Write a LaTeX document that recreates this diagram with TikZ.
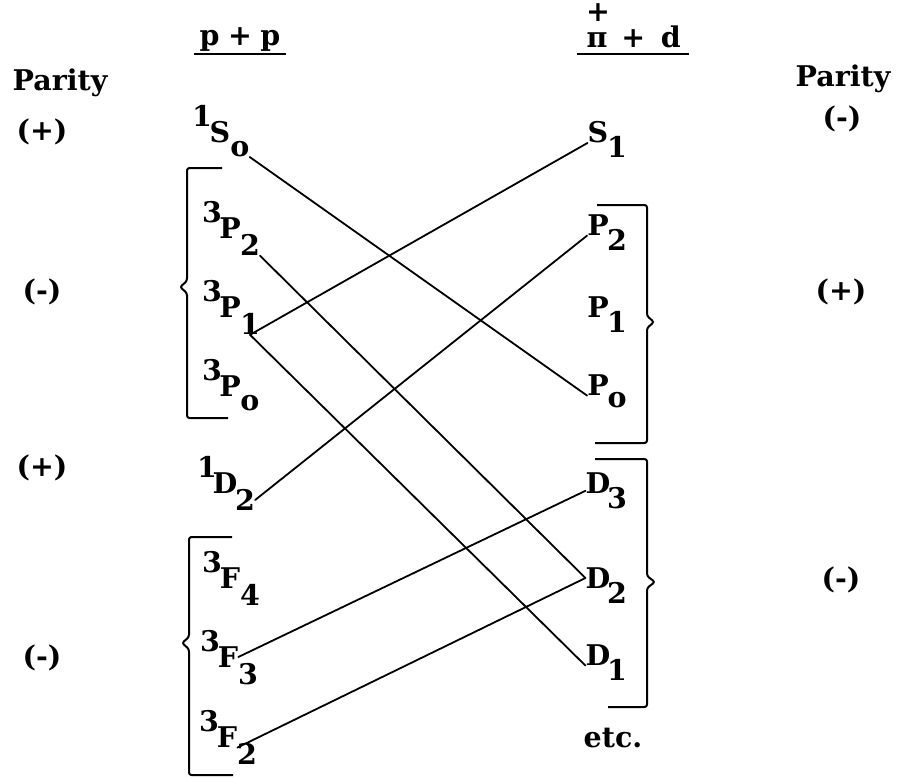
\documentclass[tikz,border=0pt]{standalone}
\usepackage{fontspec}
\setmainfont{DejaVu Serif}
\usetikzlibrary{positioning}

\begin{document}
\begin{tikzpicture}[x=1pt,y=-1pt,
  font=\fontsize{28.5}{30}\selectfont\bfseries,
  lt/.style={inner sep=0pt},
  ttl/.style={inner ysep=0pt,anchor=base},
  link/.style={line width=1.8pt,line cap=round},
  brk/.style={line width=2pt,rounded corners=2.5pt}]
 \useasboundingbox (0,0) rectangle (901,777);
 % headings
 \node[ttl,inner xsep=5pt] (pp) at (240,45) {p\hspace{0.3em}+\hspace{0.3em}p};
 \node[ttl,inner xsep=0pt] (pi) at (597,47) {π};
 \node[lt] (pi-u) at (598,13) {+};
 \node[ttl,inner xsep=0pt] (pd) at (651,47) {+\hspace{0.55em}d};
 \draw[line width=2pt] ([yshift=-9pt]pp.base west) -- ([yshift=-9pt]pp.base east);
 \draw[line width=2pt] ([xshift=-9pt,yshift=-7pt]pi.base west) -- ([xshift=8pt,yshift=-7pt]pd.base east);
 \node[ttl,inner xsep=0pt] (parL) at (60,90) {Parity};
 \node[ttl,inner xsep=0pt] (parR) at (843,86) {Parity};
 % parities
 \node[lt] (sgL1) at (42,132) {(+)};
 \node[lt] (sgL2) at (42,292) {(-)};
 \node[lt] (sgL3) at (42,468) {(+)};
 \node[lt] (sgL4) at (42,658) {(-)};
 \node[lt] (sgR1) at (842,119) {(-)};
 \node[lt] (sgR2) at (841,292) {(+)};
 \node[lt] (sgR3) at (841,580) {(-)};
 % p + p states
 \foreach \n/\x/\y/\u/\m/\d in {S0/220/132/1/S/o, P2l/230/228/3/P/2,
   P1l/230/307/3/P/1, P0l/230/386/3/P/o, D2l/225/483/1/D/2,
   F4/230/578/3/F/4, F3/228/657/3/F/3, F2/227/737/3/F/2}
 { \node[lt] (\n) at (\x,\y) {\m};
   \node[lt] (\n-u) at ([shift={(-18,-16)}]\n) {\u};
   \node[lt] (\n-d) at ([shift={(20,17)}]\n) {\d}; }
 % pi + d states
 \foreach \n/\y/\m/\d in {S1/132/S/1, P2r/225/P/2, P1r/307/P/1, P0r/385/P/o,
   D3/483/D/3, D2r/578/D/2, D1/655/D/1}
 { \node[lt] (\n) at (598,\y) {\m};
   \node[lt] (\n-d) at ([shift={(19,15)}]\n) {\d}; }
 \node[lt] (etc) at (613,738) {etc.};
 % brackets
 \draw[brk] (222,168) -- (187,168) -- (187,281) -- (180,287) -- (187,293) -- (187,418) -- (228,418);
 \draw[brk] (232,537) -- (189,537) -- (189,637) -- (182,643) -- (189,649) -- (189,775) -- (233,775);
 \draw[brk] (597,205) -- (647,205) -- (647,316) -- (654,322) -- (647,328) -- (647,443) -- (595,443);
 \draw[brk] (595,459) -- (647,459) -- (647,576) -- (655,582) -- (647,588) -- (647,707) -- (608,707);
 % transitions
 \draw[link] (S0-d.south east) -- (P0r.south west);
 \draw[link] (S1.south west) -- (P1l-d.south);
 \draw[link] (P2l-d.south east) -- (D2r.west);
 \draw[link] (P2r.south west) -- (D2l-d.east);
 \draw[link] (P1l-d.south) -- (D1.south west);
 \draw[link] (F3.east) -- (D3.mid west);
 \draw[link] (F2.south east) -- (D2r.west);
\end{tikzpicture}
\end{document}
